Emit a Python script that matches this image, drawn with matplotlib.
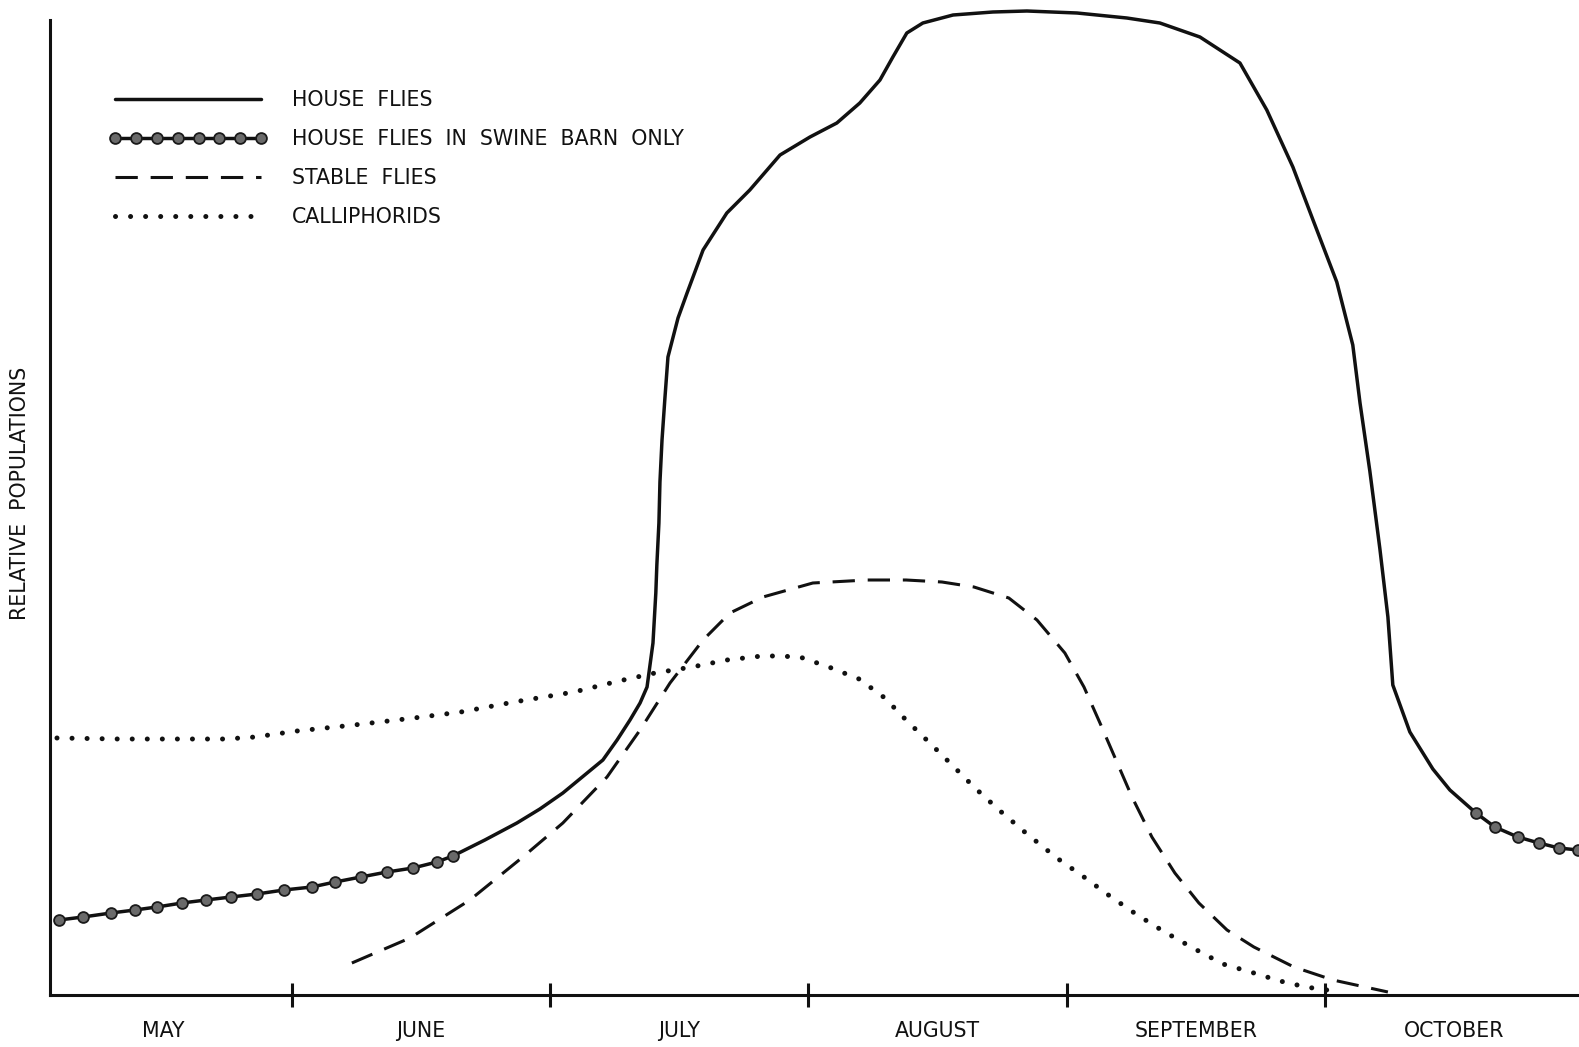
import matplotlib
matplotlib.use("Agg")
import matplotlib.pyplot as plt
from matplotlib.lines import Line2D

# ----------------------------- CONFIG -----------------------------
OUTPUT_FILE = "out.png"
FIG_W, FIG_H, DPI = 15.79, 10.47, 100
FONT_SIZE = 14.8
INK = "#111111"

# x = month number (6.0 = 1 June, 7.0 = 1 July ...), y = relative population
MONTH_TICKS = [6, 7, 8, 9, 10]
MONTH_LABELS = ["MAY", "JUNE", "JULY", "AUGUST", "SEPTEMBER", "OCTOBER"]
MONTH_LABEL_POS = [5.5, 6.5, 7.5, 8.5, 9.5, 10.5]

# ----------------------------- DATA -----------------------------
# house flies (main season curve)
house_x = [6.623, 6.747, 6.871, 6.960, 7.049, 7.204, 7.259, 7.309, 7.348, 7.375,
           7.398, 7.409, 7.413, 7.421, 7.425, 7.433, 7.444, 7.456, 7.495, 7.530,
           7.592, 7.684, 7.773, 7.890, 8.006, 8.110, 8.199, 8.277, 8.327, 8.381,
           8.443, 8.560, 8.714, 8.846, 9.040, 9.233, 9.361, 9.516, 9.671, 9.775,
           9.876, 9.954, 10.046, 10.108, 10.136, 10.174, 10.213, 10.244, 10.263,
           10.329, 10.418, 10.484, 10.585]
house_y = [13.9, 15.5, 17.2, 18.6, 20.2, 23.5, 25.5, 27.5, 29.2, 30.8,
           35.2, 40.2, 43.0, 47.2, 51.3, 55.5, 59.6, 63.8, 67.7, 70.2,
           74.5, 78.2, 80.5, 84.0, 85.8, 87.2, 89.2, 91.5, 93.8, 96.2,
           97.2, 98.0, 98.3, 98.4, 98.2, 97.7, 97.2, 95.8, 93.2, 88.5,
           82.8, 77.5, 71.3, 65.0, 59.2, 52.4, 44.6, 37.8, 31.0,
           26.3, 22.6, 20.5, 18.2]

# house flies in swine barn only (early and late season)
swine_early_x = [5.098, 5.191, 5.299, 5.392, 5.477, 5.574, 5.667, 5.764, 5.864,
                 5.969, 6.077, 6.167, 6.267, 6.368, 6.469, 6.561, 6.623]
swine_early_y = [7.5, 7.8, 8.2, 8.5, 8.8, 9.2, 9.5, 9.8, 10.1,
                 10.5, 10.8, 11.3, 11.8, 12.3, 12.7, 13.3, 13.9]
swine_late_x = [10.585, 10.658, 10.747, 10.829, 10.906, 10.980]
swine_late_y = [18.2, 16.8, 15.8, 15.2, 14.7, 14.5]

# stable flies
stable_x = [6.232, 6.457, 6.689, 6.894, 7.049, 7.220, 7.348, 7.464, 7.592, 7.696,
            7.824, 8.017, 8.227, 8.378, 8.517, 8.641, 8.776, 8.885, 8.993, 9.067,
            9.129, 9.191, 9.253, 9.330, 9.419, 9.512, 9.621, 9.725, 9.880, 10.031,
            10.244]
stable_y = [3.2, 5.7, 9.5, 13.8, 17.2, 21.8, 26.5, 31.2, 35.5, 38.2,
            39.8, 41.2, 41.5, 41.5, 41.3, 40.8, 39.7, 37.5, 34.2, 30.8,
            27.2, 23.5, 19.8, 15.8, 12.2, 9.2, 6.5, 4.8, 2.8, 1.5,
            0.3]

# calliphorids
calli_x = [5.090, 5.330, 5.528, 5.744, 5.857, 6.019, 6.240, 6.472, 6.654, 6.860,
           7.092, 7.266, 7.406, 7.549, 7.684, 7.820, 7.878, 7.967, 8.079, 8.196,
           8.296, 8.378, 8.470, 8.560, 8.641, 8.738, 8.842, 8.962, 9.067, 9.167,
           9.268, 9.373, 9.489, 9.605, 9.725, 9.826, 9.926, 10.008]
calli_y = [25.7, 25.6, 25.6, 25.6, 25.8, 26.4, 27.0, 27.7, 28.3, 29.3,
           30.3, 31.4, 32.2, 32.8, 33.5, 33.9, 33.9, 33.8, 32.8, 31.6,
           29.7, 27.5, 25.2, 22.9, 20.8, 18.5, 16.2, 13.7, 11.8, 9.9,
           8.1, 6.4, 4.7, 3.1, 2.2, 1.4, 0.8, 0.5]

SERIES_LABELS = ["HOUSE  FLIES", "HOUSE  FLIES  IN  SWINE  BARN  ONLY",
                 "STABLE  FLIES", "CALLIPHORIDS"]

# ----------------------------- STYLES -----------------------------
SOLID = dict(color=INK, lw=2.5, solid_capstyle="round", solid_joinstyle="round")
SWINE = dict(color=INK, lw=2.5, marker="o", ms=7.8, mfc="#6a6a6a", mec="#1a1a1a", mew=1.3,
             solid_joinstyle="round")
DASHED = dict(color=INK, lw=2.2, linestyle=(0, (7.3, 4.2)))
DOTTED = dict(color=INK, lw=3.6, linestyle=(0, (0.01, 3.0)), dash_capstyle="round")

# ----------------------------- PLOT -----------------------------
plt.rcParams["font.family"] = ["DejaVu Sans"]
fig = plt.figure(figsize=(FIG_W, FIG_H), dpi=DPI)
ax = fig.add_axes([50 / 1579, 52 / 1047, 1529 / 1579, 995 / 1047])
ax.set_xlim(5.063, 10.984)
ax.set_ylim(0, 99.5)

ax.plot(house_x, house_y, **SOLID)
ax.plot(swine_early_x, swine_early_y, **SWINE)
ax.plot(swine_late_x, swine_late_y, **SWINE)
ax.plot(stable_x, stable_y, **DASHED)
ax.plot(calli_x, calli_y, **DOTTED)

# axes: only left + bottom, month boundaries as crossing ticks
for side in ["top", "right"]:
    ax.spines[side].set_visible(False)
for side in ["left", "bottom"]:
    ax.spines[side].set_linewidth(2.2)
    ax.spines[side].set_color(INK)
ax.spines["left"].set_bounds(0, 97.5)
ax.set_yticks([])
ax.set_xticks(MONTH_TICKS)
ax.set_xticklabels([])
ax.tick_params(axis="x", which="major", direction="inout", length=17, width=2.2, color=INK)
ax.set_xticks(MONTH_LABEL_POS, minor=True)
ax.set_xticklabels(MONTH_LABELS, minor=True, fontsize=FONT_SIZE, color=INK)
ax.tick_params(axis="x", which="minor", length=0, pad=19)

fig.text(20 / 1579, 1 - 493 / 1047, "RELATIVE  POPULATIONS", rotation=90,
         ha="center", va="center", fontsize=FONT_SIZE, color=INK)

# legend
handles = [Line2D([], [], **SOLID), Line2D([], [], **SWINE),
           Line2D([], [], **DASHED), Line2D([], [], **DOTTED)]
ax.legend(handles, SERIES_LABELS, loc="upper left", frameon=False,
          bbox_to_anchor=(109 / 1579, 1 - 90 / 1047), bbox_transform=fig.transFigure,
          fontsize=FONT_SIZE, handlelength=7.7, handletextpad=1.2, labelspacing=0.93,
          borderpad=0, borderaxespad=0, numpoints=8, labelcolor=INK)

fig.savefig(OUTPUT_FILE, dpi=DPI)
